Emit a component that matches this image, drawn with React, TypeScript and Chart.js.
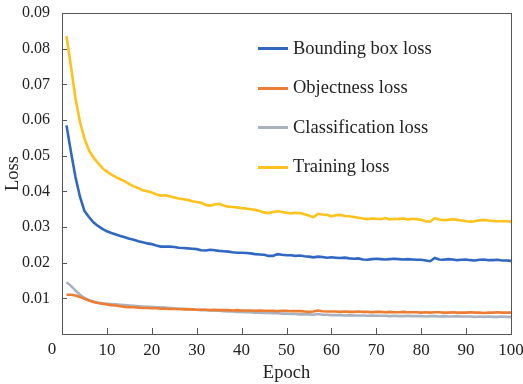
import React, { useEffect, useRef } from "react";
import { Chart, registerables } from "chart.js";

Chart.register(...registerables);

const epochs: number[] = Array.from({ length: 100 }, (_, i) => i + 1);

const seriesLabels = ["Bounding box loss", "Objectness loss", "Classification loss", "Training loss"];
const seriesColors = ["#3067c3", "#ee7d34", "#a9b2bf", "#ffc21c"];

const boundingBoxLoss = [
  0.0585, 0.0510, 0.0440, 0.0385, 0.0345, 0.0328, 0.0313, 0.0303, 0.0295, 0.0288,
  0.0283, 0.0279, 0.0275, 0.0271, 0.0267, 0.0264, 0.0260, 0.0257, 0.0254, 0.0252,
  0.0248, 0.0245, 0.0245, 0.0245, 0.0244, 0.0242, 0.0241, 0.0240, 0.0239, 0.0238,
  0.0235, 0.0234, 0.0236, 0.0235, 0.0233, 0.0232, 0.0231, 0.0229, 0.0228, 0.0228,
  0.0227, 0.0226, 0.0224, 0.0223, 0.0222, 0.0219, 0.0219, 0.0224, 0.0222, 0.0221,
  0.0221, 0.0219, 0.0220, 0.0218, 0.0217, 0.0215, 0.0217, 0.0216, 0.0214, 0.0215,
  0.0214, 0.0213, 0.0214, 0.0212, 0.0211, 0.0212, 0.0209, 0.0208, 0.0210, 0.0211,
  0.0210, 0.0209, 0.0210, 0.0211, 0.0210, 0.0209, 0.0210, 0.0209, 0.0208, 0.0208,
  0.0206, 0.0204, 0.0213, 0.0209, 0.0208, 0.0210, 0.0209, 0.0207, 0.0208, 0.0209,
  0.0207, 0.0206, 0.0208, 0.0209, 0.0207, 0.0207, 0.0208, 0.0206, 0.0206, 0.0205,
];

const objectnessLoss = [
  0.0110, 0.0110, 0.0108, 0.0104, 0.0099, 0.0094, 0.0090, 0.0087, 0.0085, 0.0083,
  0.0081, 0.0080, 0.0078, 0.0076, 0.0075, 0.0075, 0.0074, 0.0073, 0.0073, 0.0072,
  0.0072, 0.0071, 0.0071, 0.0070, 0.0070, 0.0070, 0.0069, 0.0069, 0.0069, 0.0068,
  0.0068, 0.0068, 0.0067, 0.0068, 0.0067, 0.0067, 0.0067, 0.0066, 0.0067, 0.0066,
  0.0066, 0.0066, 0.0065, 0.0066, 0.0065, 0.0065, 0.0065, 0.0064, 0.0065, 0.0065,
  0.0064, 0.0064, 0.0064, 0.0063, 0.0062, 0.0063, 0.0066, 0.0064, 0.0063, 0.0063,
  0.0063, 0.0062, 0.0063, 0.0062, 0.0062, 0.0063, 0.0062, 0.0062, 0.0061, 0.0062,
  0.0062, 0.0061, 0.0062, 0.0061, 0.0061, 0.0062, 0.0061, 0.0061, 0.0061, 0.0060,
  0.0061, 0.0060, 0.0061, 0.0061, 0.0060, 0.0060, 0.0061, 0.0060, 0.0060, 0.0060,
  0.0061, 0.0060, 0.0060, 0.0059, 0.0060, 0.0060, 0.0061, 0.0060, 0.0060, 0.0060,
];

const classificationLoss = [
  0.0145, 0.0135, 0.0122, 0.0110, 0.0101, 0.0095, 0.0091, 0.0088, 0.0086, 0.0085,
  0.0084, 0.0083, 0.0082, 0.0081, 0.0080, 0.0079, 0.0078, 0.0077, 0.0076, 0.0076,
  0.0075, 0.0075, 0.0074, 0.0073, 0.0072, 0.0071, 0.0071, 0.0070, 0.0069, 0.0068,
  0.0067, 0.0067, 0.0066, 0.0065, 0.0065, 0.0064, 0.0063, 0.0063, 0.0062, 0.0062,
  0.0061, 0.0061, 0.0060, 0.0060, 0.0059, 0.0059, 0.0058, 0.0058, 0.0057, 0.0057,
  0.0056, 0.0056, 0.0055, 0.0055, 0.0055, 0.0054, 0.0056, 0.0054, 0.0054, 0.0053,
  0.0053, 0.0053, 0.0052, 0.0053, 0.0052, 0.0052, 0.0052, 0.0051, 0.0052, 0.0051,
  0.0051, 0.0051, 0.0050, 0.0051, 0.0050, 0.0050, 0.0051, 0.0050, 0.0050, 0.0050,
  0.0049, 0.0050, 0.0050, 0.0049, 0.0050, 0.0049, 0.0049, 0.0050, 0.0049, 0.0049,
  0.0049, 0.0048, 0.0049, 0.0048, 0.0049, 0.0048, 0.0048, 0.0049, 0.0048, 0.0048,
];

const trainingLoss = [
  0.0835, 0.0750, 0.0660, 0.0595, 0.0548, 0.0515, 0.0495, 0.0480, 0.0465, 0.0455,
  0.0447, 0.0440, 0.0434, 0.0428, 0.0420, 0.0414, 0.0409, 0.0403, 0.0400, 0.0397,
  0.0391, 0.0388, 0.0389, 0.0386, 0.0383, 0.0380, 0.0378, 0.0376, 0.0372, 0.0370,
  0.0368, 0.0362, 0.0360, 0.0363, 0.0365, 0.0360, 0.0357, 0.0356, 0.0355, 0.0353,
  0.0352, 0.0350, 0.0348, 0.0345, 0.0341, 0.0339, 0.0342, 0.0344, 0.0342, 0.0340,
  0.0338, 0.0340, 0.0339, 0.0336, 0.0332, 0.0327, 0.0337, 0.0335, 0.0334, 0.0330,
  0.0333, 0.0334, 0.0331, 0.0330, 0.0328, 0.0326, 0.0324, 0.0322, 0.0324, 0.0323,
  0.0322, 0.0325, 0.0321, 0.0323, 0.0322, 0.0324, 0.0321, 0.0323, 0.0322, 0.0320,
  0.0316, 0.0315, 0.0325, 0.0321, 0.0319, 0.0320, 0.0322, 0.0320, 0.0318, 0.0316,
  0.0315, 0.0316, 0.0319, 0.0320, 0.0318, 0.0317, 0.0316, 0.0316, 0.0316, 0.0315,
];

const allSeries = [boundingBoxLoss, objectnessLoss, classificationLoss, trainingLoss];

const xTickValues = [0, 10, 20, 30, 40, 50, 60, 70, 80, 90, 100];
const yTickValues = [0.01, 0.02, 0.03, 0.04, 0.05, 0.06, 0.07, 0.08, 0.09];

const FONT = "'Liberation Serif', 'Times New Roman', serif";
const TEXT_COLOR = "#222222";
const AXIS_COLOR = "#555555";

const framePlugin = {
  id: "frameAndLegend",
  afterDraw(chart: any) {
    const ctx: CanvasRenderingContext2D = chart.ctx;
    const { left, top, right, bottom } = chart.chartArea;
    const xs = chart.scales.x;
    const ys = chart.scales.y;
    const L = Math.round(left);
    const T = Math.round(top);
    const R = Math.round(right);
    const B = Math.round(bottom);
    ctx.save();
    ctx.globalAlpha = 1;
    ctx.fillStyle = AXIS_COLOR;
    // frame
    ctx.fillRect(L, T, R - L + 1, 1);
    ctx.fillRect(L, B, R - L + 1, 1);
    ctx.fillRect(L, T, 1, B - T + 1);
    ctx.fillRect(R, T, 1, B - T + 1);
    // inward ticks
    for (const v of yTickValues) {
      const py = Math.round(ys.getPixelForValue(v));
      ctx.fillRect(L, py, 5, 1);
    }
    for (const v of xTickValues) {
      if (v === 0 || v === 100) continue;
      const px = Math.round(xs.getPixelForValue(v));
      ctx.fillRect(px, B - 6, 1, 6);
    }
    // origin label "0"
    ctx.fillStyle = TEXT_COLOR;
    ctx.font = `17px ${FONT}`;
    ctx.textAlign = "center";
    ctx.textBaseline = "middle";
    ctx.fillText("0", L - 10, B + 6 + 10);
    // legend
    ctx.font = `18.5px ${FONT}`;
    ctx.textAlign = "left";
    ctx.textBaseline = "middle";
    const lx = L + 196;
    seriesLabels.forEach((label, i) => {
      const ly = T + 35 + i * 39.5;
      ctx.fillStyle = seriesColors[i];
      ctx.fillRect(lx, Math.round(ly) - 1, 30, 3);
      ctx.fillStyle = TEXT_COLOR;
      ctx.fillText(label, lx + 35, ly + 1);
    });
    ctx.restore();
  },
};

export default function App() {
  const canvasRef = useRef<HTMLCanvasElement | null>(null);

  useEffect(() => {
    if (!canvasRef.current) return;
    const datasets = allSeries.map((vals, i) => ({
      label: seriesLabels[i],
      data: epochs.map((e, j) => ({ x: e, y: vals[j] })),
      borderColor: seriesColors[i],
      backgroundColor: seriesColors[i],
      borderWidth: 2.6,
      pointRadius: 0,
      tension: 0,
      fill: false,
      order: i === 3 ? 0 : i === 0 ? 1 : i === 1 ? 2 : 3,
    }));
    const chart = new Chart(canvasRef.current, {
      type: "line",
      data: { datasets },
      options: {
        animation: false,
        responsive: true,
        maintainAspectRatio: false,
        layout: { padding: { top: 13, right: 12, left: 0, bottom: 0 } },
        plugins: { legend: { display: false }, tooltip: { enabled: false } },
        scales: {
          x: {
            type: "linear",
            min: 0,
            max: 100,
            afterFit: (s: any) => {
              s.height = 50;
              s.paddingLeft = 0;
              s.paddingRight = 0;
            },
            afterBuildTicks: (s: any) => {
              s.ticks = xTickValues.map((v) => ({ value: v }));
            },
            grid: { display: false, drawTicks: false },
            border: { display: false },
            ticks: {
              autoSkip: false,
              maxRotation: 0,
              padding: 6,
              color: TEXT_COLOR,
              font: { family: FONT, size: 17 },
              callback: (v: any) => (v === 0 ? "" : String(v)),
            },
            title: {
              display: true,
              text: "Epoch",
              color: TEXT_COLOR,
              font: { family: FONT, size: 18.5, lineHeight: 1 },
              padding: { top: 0, bottom: 2 },
            },
          },
          y: {
            type: "linear",
            min: 0,
            max: 0.09,
            afterFit: (s: any) => {
              s.width = 62;
              s.paddingTop = 0;
              s.paddingBottom = 0;
            },
            afterBuildTicks: (s: any) => {
              s.ticks = [0, ...yTickValues].map((v) => ({ value: v }));
            },
            grid: { display: false, drawTicks: false },
            border: { display: false },
            ticks: {
              autoSkip: false,
              padding: 12,
              color: TEXT_COLOR,
              font: { family: FONT, size: 16 },
              callback: (v: any) => (v < 0.005 ? "" : Number(v).toFixed(2)),
            },
            title: {
              display: true,
              text: "Loss",
              color: TEXT_COLOR,
              font: { family: FONT, size: 18.5, lineHeight: 1 },
              padding: { top: 4, bottom: 0 },
            },
          },
        },
      },
      plugins: [framePlugin],
    });
    return () => chart.destroy();
  }, []);

  return (
    <div style={{ position: "absolute", left: 0, top: 0, width: 523, height: 384, background: "#fff" }}>
      <canvas ref={canvasRef} />
    </div>
  );
}
